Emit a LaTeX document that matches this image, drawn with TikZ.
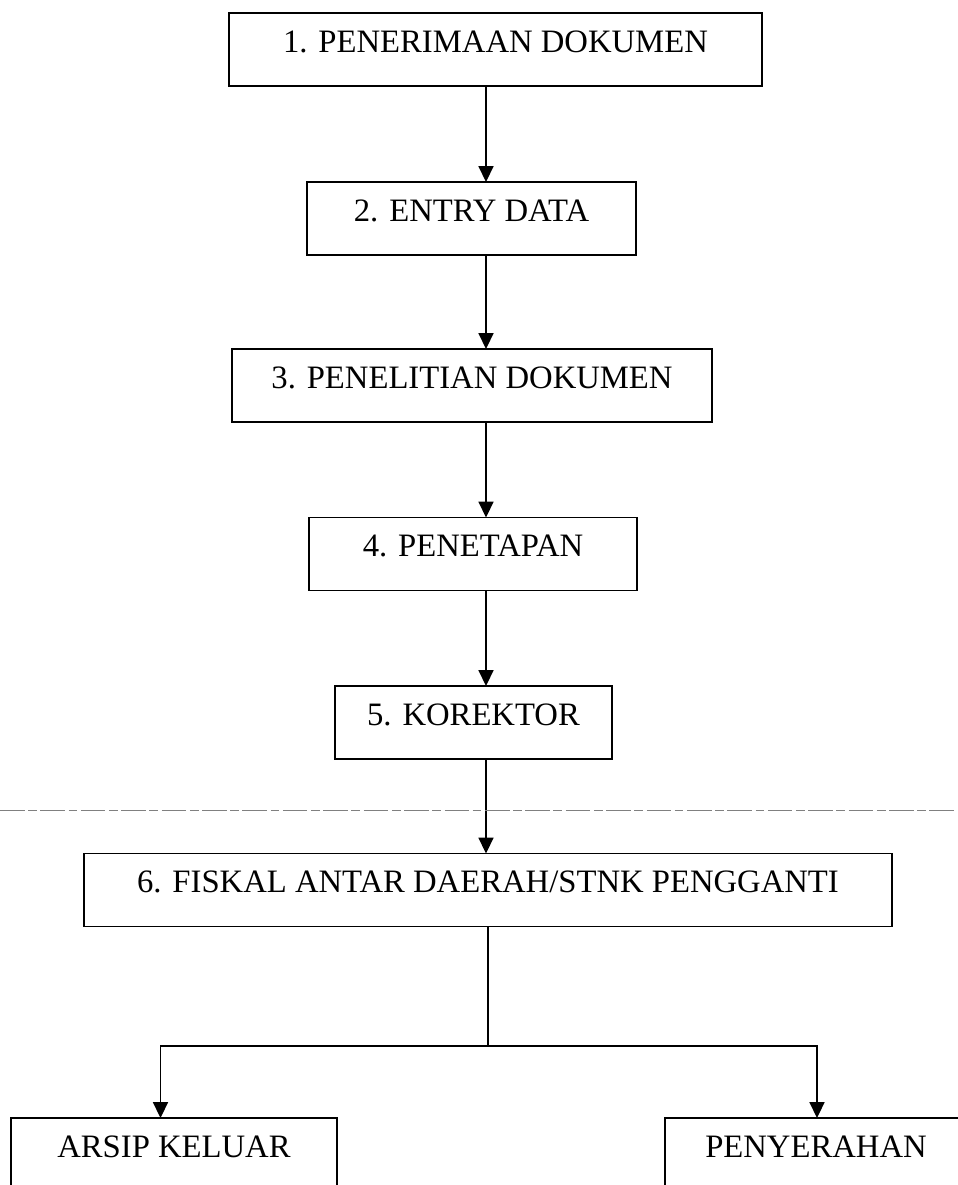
\documentclass[tikz,border=0pt]{standalone}
\usepackage{fontspec}
\setmainfont{Liberation Serif}
\usetikzlibrary{arrows.meta}

\begin{document}
\begin{tikzpicture}[x=0.02cm,y=-0.02cm,
  box/.style={draw,line width=1.1pt,inner sep=0pt,outer sep=0pt,minimum height=1.46cm,
    font=\fontsize{18.6}{22}\selectfont,text height=0.65em,text depth=0.35em},
  flow/.style={line width=0.9pt,-{Triangle[length=9pt,width=8.5pt]}}]
\useasboundingbox (0,0) rectangle (957,1185);
\node[box,minimum width=10.66cm] (b1) at (495.5,49.5) {1. PENERIMAAN DOKUMEN};
\node[box,minimum width=6.58cm] (b2) at (471.5,218.5) {2. ENTRY DATA};
\node[box,minimum width=9.6cm] (b3) at (472,385.5) {3. PENELITIAN DOKUMEN};
\node[box,minimum width=6.56cm] (b4) at (473,554) {4. PENETAPAN};
\node[box,minimum width=5.54cm] (b5) at (473.5,722.5) {5. KOREKTOR};
\node[box,minimum width=16.16cm] (b6) at (488,890) {6. FISKAL ANTAR DAERAH/STNK PENGGANTI};
\node[box,minimum width=6.53cm] (b7) at (174,1154.5) {ARSIP KELUAR};
\node[box,minimum width=6.04cm] (b8) at (816,1154.5) {PENYERAHAN};
\coordinate (axis) at (486,0);
\coordinate (split) at (488,1046);
\coordinate (lt) at (160.5,1046);
\coordinate (rt) at (817,1046);
\draw[flow] (b1.south -| axis) -- (b2.north -| axis);
\draw[flow] (b2.south -| axis) -- (b3.north -| axis);
\draw[flow] (b3.south -| axis) -- (b4.north -| axis);
\draw[flow] (b4.south -| axis) -- (b5.north -| axis);
\draw[flow] (b5.south -| axis) -- (b6.north -| axis);
\draw[line width=0.6pt] (b6.south) -- (split);
\draw[flow] (split) -| (lt |- b7.north);
\draw[flow] (split) -| (rt |- b8.north);
\draw[gray,line width=0.5pt,dash pattern=on 14pt off 2pt on 5pt off 2pt] (0,810) -- (957,810);
\end{tikzpicture}
\end{document}
